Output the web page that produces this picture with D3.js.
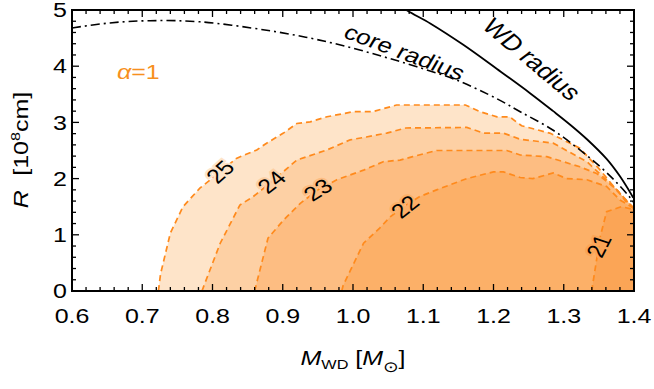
<!DOCTYPE html>
<html>
<head>
<meta charset="utf-8">
<script src="https://cdn.jsdelivr.net/npm/d3@7"></script>
<style>
  body { margin: 0; background: #fff; }
  svg { display: block; font-family: "Liberation Sans", Arial, sans-serif; }
</style>
</head>
<body>
<div class="figure"></div>
<script>
// contour lines of log10 (level) in the M_WD - R plane, [M, R] pairs
var contour25 = [[0.723,0],[0.726,0.3],[0.740,1.03],[0.758,1.50],[0.782,1.83],[0.811,2.12],[0.834,2.36],
    [0.863,2.51],[0.877,2.63],[0.901,2.81],[0.920,2.98],[0.939,3.01],[0.963,3.10],[1.000,3.19],[1.028,3.19],
    [1.062,3.31],[1.160,3.31],[1.181,3.19],[1.205,3.10],[1.223,3.10],[1.240,2.94],[1.280,2.81],[1.323,2.54],
    [1.352,2.15],[1.369,1.89],[1.385,1.67],[1.400,1.47]]
var contour24 = [[0.785,0],[0.788,0.1],[0.811,0.85],[0.839,1.53],[0.858,1.68],[0.882,1.92],[0.920,2.33],
    [0.963,2.51],[0.996,2.69],[1.019,2.74],[1.048,2.81],[1.075,2.90],[1.162,2.91],[1.186,2.81],[1.214,2.81],
    [1.238,2.70],[1.285,2.63],[1.333,2.30],[1.356,2.03],[1.376,1.80],[1.388,1.60],[1.400,1.47]]
var contour23 = [[0.860,0],[0.862,0.1],[0.879,0.94],[0.901,1.26],[0.925,1.56],[0.950,1.80],[0.977,1.98],
    [1.015,2.15],[1.043,2.30],[1.067,2.33],[1.085,2.39],[1.119,2.50],[1.219,2.50],[1.238,2.42],[1.276,2.39],
    [1.323,2.21],[1.347,2.09],[1.370,1.86],[1.390,1.60],[1.400,1.47]]
var contour22 = [[0.984,0],[0.986,0.1],[1.015,0.85],[1.038,1.12],[1.053,1.32],[1.072,1.50],[1.095,1.68],
    [1.119,1.80],[1.162,2.00],[1.200,2.12],[1.214,2.12],[1.238,2.02],[1.256,2.00],[1.285,2.10],[1.304,2.00],
    [1.333,1.98],[1.361,1.86],[1.380,1.62],[1.400,1.47]]
var contour21 = [[1.340,0],[1.341,0.1],[1.352,0.97],[1.361,1.41],[1.382,1.50],[1.400,1.45]]

var levels = ["25", "24", "23", "22", "21"]
var contours = [contour25, contour24, contour23, contour22, contour21]
var fills = ["#fee4c9", "#fdd0a4", "#fdbd82", "#fcb068", "#fba556"]

// label spots on the contours: [M, R, angle]
var labelSpots = [[0.811, 2.12, -42], [0.884, 1.94, -38], [0.950, 1.80, -33], [1.074, 1.50, -38], [1.350, 0.80, -63]]

// white dwarf radius and core radius vs mass
var wdRadius = [[1.060,5.15],[1.076,5.00],[1.110,4.76],[1.157,4.38],[1.205,3.95],[1.252,3.52],[1.285,3.20],
    [1.310,2.95],[1.333,2.70],[1.361,2.35],[1.380,2.04],[1.399,1.66]]
var coreRadius = [[0.600,4.68],[0.654,4.77],[0.711,4.81],[0.782,4.79],[0.877,4.64],[0.939,4.50],
    [0.991,4.35],[1.043,4.17],[1.091,3.99],[1.148,3.75],[1.205,3.42],[1.238,3.19],[1.285,2.86],
    [1.323,2.51],[1.352,2.21],[1.376,1.92],[1.394,1.67],[1.400,1.57]]

var xTicks = [0.6, 0.7, 0.8, 0.9, 1.0, 1.1, 1.2, 1.3, 1.4]
var yTicks = [0, 1, 2, 3, 4, 5]

var dim = { w: 654, h: 389 }
var margin = { top: 10, left: 72, right: 20, bottom: 98 }
var w = dim.w - margin.left - margin.right,
    h = dim.h - margin.top - margin.bottom

// the type in the figure is wider than it is tall
var stretch = 1.25

var svg = d3.select("div.figure")
    .append("svg")
    .attr("width", dim.w)
    .attr("height", dim.h)
    .append("g")
    .attr("transform", "translate(" + margin.left + "," + margin.top + ")")

var xScale = d3.scaleLinear().domain([0.6, 1.4]).range([0, w])
var yScale = d3.scaleLinear().domain([0, 5]).range([h, 0])

// transform for text placed at (x, y) that shows at angle phi (degrees) once stretched
var textAt = function(x, y, phi) {
    var t = "translate(" + x + "," + y + ") scale(" + stretch + ",1)"
    if (phi) {
        var r = phi * Math.PI / 180
        var a = Math.atan2(stretch * Math.sin(r), Math.cos(r)) * 180 / Math.PI
        t += " rotate(" + a + ")"
    }
    return t
}

svg.append("defs").append("clipPath")
    .attr("id", "plotclip")
    .append("rect")
    .attr("width", w).attr("height", h)

var line = d3.line()
    .x(function(d) { return xScale(d[0]) })
    .y(function(d) { return yScale(d[1]) })

var smoothLine = d3.line()
    .x(function(d) { return xScale(d[0]) })
    .y(function(d) { return yScale(d[1]) })
    .curve(d3.curveCatmullRom)

var plot = svg.append("g").attr("clip-path", "url(#plotclip)")

// filled regions, outermost first
contours.forEach(function(c, i) {
    var poly = c.concat([[1.4, 0], [c[0][0], 0]])
    plot.append("path")
        .attr("d", line(poly) + "Z")
        .attr("fill", fills[i])
})

contours.forEach(function(c) {
    plot.append("path")
        .attr("d", line(c))
        .attr("fill", "none")
        .attr("stroke", "#ff8a1c")
        .attr("stroke-width", 1.7)
        .attr("stroke-dasharray", "6,4")
})

plot.append("path")
    .attr("d", smoothLine(coreRadius))
    .attr("fill", "none")
    .attr("stroke", "#000")
    .attr("stroke-width", 1.6)
    .attr("stroke-dasharray", "9,4,2,4")

plot.append("path")
    .attr("d", smoothLine(wdRadius))
    .attr("fill", "none")
    .attr("stroke", "#000")
    .attr("stroke-width", 1.8)

// contour labels
labelSpots.forEach(function(s, i) {
    plot.append("text")
        .attr("transform", textAt(xScale(s[0]), yScale(s[1]), s[2]))
        .attr("text-anchor", "middle")
        .attr("dy", "0.35em")
        .style("font-size", "20px")
        .style("paint-order", "stroke")
        .attr("stroke", fills[i])
        .attr("stroke-width", 4)
        .attr("fill", "#000")
        .text(levels[i])
})

svg.append("text")
    .attr("transform", textAt(xScale(1.068), yScale(4.13), 20.5))
    .attr("text-anchor", "middle")
    .style("font-size", "21px")
    .text("core radius")

svg.append("text")
    .attr("transform", textAt(xScale(1.245), yScale(4.03), 40))
    .attr("text-anchor", "middle")
    .style("font-size", "22px")
    .text("WD radius")

var alpha = svg.append("text")
    .attr("transform", textAt(xScale(0.664), yScale(3.78)))
    .style("font-size", "20px")
    .attr("fill", "#f7901e")
alpha.append("tspan").style("font-style", "italic").text("α")
alpha.append("tspan").text("=1")

// frame and inward ticks on all sides
svg.append("rect")
    .attr("width", w).attr("height", h)
    .attr("fill", "none")
    .attr("stroke", "#000")
    .attr("stroke-width", 2)

var xMinor = d3.range(0.6, 1.4001, 0.02)
var yMinor = d3.range(0, 5.001, 0.2)

var isMajor = function(v, step) { return Math.abs(v / step - Math.round(v / step)) < 1e-6 }

var ticks = svg.append("g").attr("stroke", "#000").attr("stroke-width", 1.3)
xMinor.forEach(function(v) {
    var len = isMajor(v, 0.1) ? 7 : 4
    var px = xScale(v)
    ticks.append("line").attr("x1", px).attr("x2", px).attr("y1", h).attr("y2", h - len)
    ticks.append("line").attr("x1", px).attr("x2", px).attr("y1", 0).attr("y2", len)
})
yMinor.forEach(function(v) {
    var len = isMajor(v, 1) ? 7 : 4
    var py = yScale(v)
    ticks.append("line").attr("x1", 0).attr("x2", len).attr("y1", py).attr("y2", py)
    ticks.append("line").attr("x1", w).attr("x2", w - len).attr("y1", py).attr("y2", py)
})

var fmt = d3.format(".1f")
svg.append("g").selectAll("text")
    .data(xTicks).enter()
    .append("text")
    .attr("transform", function(d) { return textAt(xScale(d), h + 32) })
    .attr("text-anchor", "middle")
    .style("font-size", "20px")
    .text(function(d) { return fmt(d) })

svg.append("g").selectAll("text")
    .data(yTicks).enter()
    .append("text")
    .attr("transform", function(d) { return textAt(-5, yScale(d)) })
    .attr("dy", "0.36em")
    .attr("text-anchor", "end")
    .style("font-size", "20px")
    .text(function(d) { return d })

var xLab = svg.append("text")
    .attr("transform", textAt(w / 2, h + 74))
    .attr("text-anchor", "middle")
    .style("font-size", "20px")
xLab.append("tspan").style("font-style", "italic").text("M")
xLab.append("tspan").style("font-size", "13px").attr("dy", 4).text("WD")
xLab.append("tspan").attr("dy", -4).text(" [")
xLab.append("tspan").style("font-style", "italic").text("M")
xLab.append("tspan").style("font-size", "15px").attr("dy", 7).text("⊙")
xLab.append("tspan").attr("dy", -7).text("]")

var yLab = svg.append("text")
    .attr("transform", "translate(" + (-44) + "," + 140 + ") rotate(-90) scale(1.25,1)")
    .attr("text-anchor", "middle")
    .style("font-size", "20px")
yLab.append("tspan").style("font-style", "italic").text("R")
yLab.append("tspan").attr("dx", 6).text(" [10")
yLab.append("tspan").style("font-size", "13px").attr("dy", -8).text("8")
yLab.append("tspan").attr("dy", 8).text("cm]")
</script>
</body>
</html>
